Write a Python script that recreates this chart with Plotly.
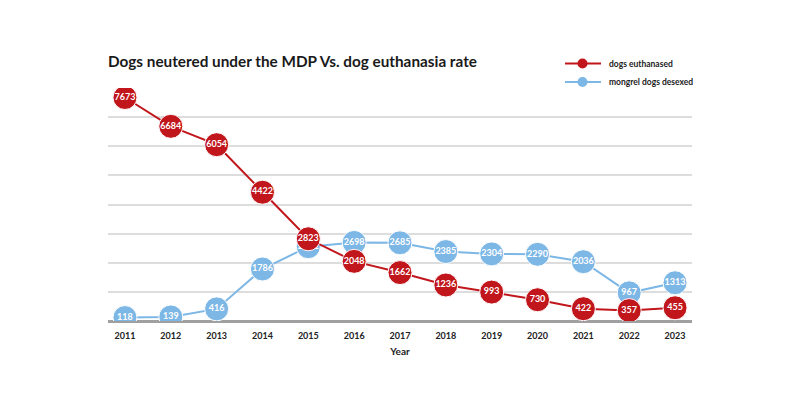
import plotly.graph_objects as go

years = [2011, 2012, 2013, 2014, 2015, 2016, 2017, 2018, 2019, 2020, 2021, 2022, 2023]
euthanased = [7673, 6684, 6054, 4422, 2823, 2048, 1662, 1236, 993, 730, 422, 357, 455]
desexed = [118, 139, 416, 1786, 2551, 2698, 2685, 2385, 2304, 2290, 2036, 967, 1313]
series_names = ["dogs euthanased", "mongrel dogs desexed"]

RED = "#c1161c"
BLUE = "#7db7e6"
FONT = "Lato"
W, H = 800, 395
L, R, T, B = 108, 108, 88, 74
PW, PH = W - L - R, H - T - B

fig = go.Figure()
fig.add_trace(go.Scatter(
    x=years, y=desexed, name=series_names[1], mode="lines+markers+text",
    line=dict(color=BLUE, width=2), marker=dict(color=BLUE, size=24, line=dict(color="white", width=1)),
    text=[str(v) for v in desexed], textposition="middle center",
    textfont=dict(color="white", size=9, family=FONT, weight="bold"),
    showlegend=False,
))
fig.add_trace(go.Scatter(
    x=years, y=euthanased, name=series_names[0], mode="lines+markers+text",
    line=dict(color=RED, width=2), marker=dict(color=RED, size=24, line=dict(color="white", width=1)),
    text=[str(v) for v in euthanased], textposition="middle center",
    textfont=dict(color="white", size=9, family=FONT, weight="bold"),
    showlegend=False,
))

# manual legend: convert pixel positions to paper (plot-area) coordinates
def px(x):
    return (x - L) / PW

def py(y):
    return (H - B - y) / PH

shapes = []
annotations = []
for name, color, ypix in [(series_names[0], RED, 63.5), (series_names[1], BLUE, 82)]:
    shapes.append(dict(type="line", xref="paper", yref="paper",
                       x0=px(565), x1=px(601), y0=py(ypix), y1=py(ypix),
                       line=dict(color=color, width=2)))
    shapes.append(dict(type="circle", xref="paper", yref="paper",
                       x0=px(577.5), x1=px(587.5), y0=py(ypix - 5), y1=py(ypix + 5),
                       fillcolor=color, line=dict(color=color, width=0)))
    annotations.append(dict(text="<b>" + name + "</b>", xref="paper", yref="paper",
                            x=px(607), y=py(ypix), xanchor="left", yanchor="middle",
                            showarrow=False, font=dict(size=8.5, family=FONT, color="#222")))

fig.update_layout(
    width=W, height=H,
    margin=dict(l=L, r=R, t=T, b=B, autoexpand=False),
    paper_bgcolor="white", plot_bgcolor="white",
    font=dict(family=FONT, color="#222"),
    title=dict(text="<b>Dogs neutered under the MDP Vs. dog euthanasia rate</b>",
               x=L/W, xanchor="left", y=1-62/H, yanchor="middle",
               font=dict(size=15.3, color="#1a1a1a", family=FONT)),
    showlegend=False,
    shapes=shapes,
    annotations=annotations,
    xaxis=dict(range=[2010.63, 2023.37], tickvals=years, ticktext=[str(y) for y in years],
               showgrid=False, zeroline=False, showline=False,
               ticks="outside", ticklen=6, tickcolor="rgba(0,0,0,0)",
               tickfont=dict(size=9, family=FONT, weight="bold", color="#222"),
               title=dict(text="<b>Year</b>", font=dict(size=10, family=FONT, color="#222"), standoff=8),
               fixedrange=True),
    yaxis=dict(range=[0, 8000], tickvals=[1000, 2000, 3000, 4000, 5000, 6000, 7000],
               showticklabels=False, showgrid=True, gridcolor="#dddddd", gridwidth=1.5,
               zeroline=True, zerolinecolor="#a0a0a0", zerolinewidth=2.5, showline=False,
               fixedrange=True),
)

fig.write_html("out.html", config={"displayModeBar": False},
               post_script="document.body.style.margin='0';")
